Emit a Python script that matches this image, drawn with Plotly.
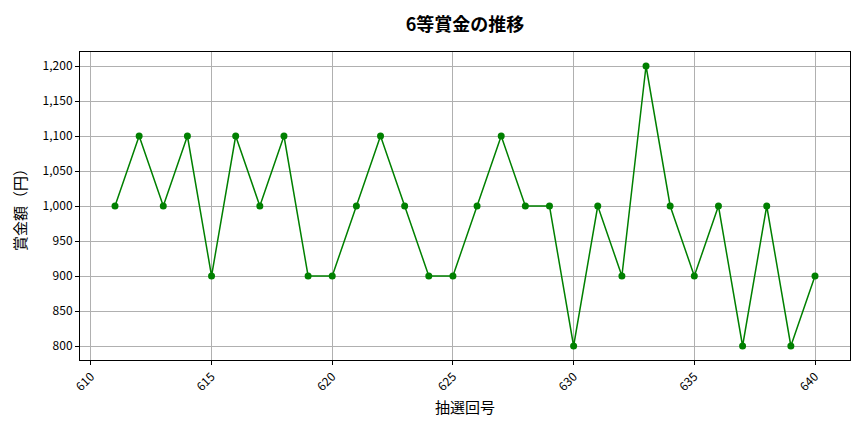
import plotly.graph_objects as go

draws = list(range(611, 641))
prizes = [1000, 1100, 1000, 1100, 900, 1100, 1000, 1100, 900, 900,
          1000, 1100, 1000, 900, 900, 1000, 1100, 1000, 1000, 800,
          1000, 900, 1200, 1000, 900, 1000, 800, 1000, 800, 900]

title_text = "6等賞金の推移"
x_title = "抽選回号"
y_title = "賞金額（円）"

FONT = "Noto Sans CJK JP"
W, H = 848, 416

fig = go.Figure()
fig.add_trace(go.Scatter(
    x=draws, y=prizes, mode="lines+markers",
    line=dict(color="green", width=1.5),
    marker=dict(color="green", size=7),
    showlegend=False,
))

fig.update_layout(
    width=W, height=H,
    margin=dict(l=72, r=6, t=44, b=64),
    paper_bgcolor="white", plot_bgcolor="white",
    font=dict(family=FONT, color="black", size=12),
    title=dict(text=f"<b>{title_text}</b>", x=(72 + (W - 6)) / 2 / W, xref="container", xanchor="center",
               y=1 - 17 / H, yanchor="middle", font=dict(size=18, family=FONT)),
)
fig.update_xaxes(
    range=[609.55, 641.45], dtick=5, tick0=610, tickangle=-45,
    showgrid=True, gridcolor="#b0b0b0", gridwidth=0.8,
    showline=True, linecolor="black", linewidth=1, mirror=True,
    ticks="outside", ticklen=4, tickcolor="black",
    title=dict(text=x_title, font=dict(size=15, family=FONT), standoff=9),
    zeroline=False,
)
fig.update_yaxes(
    range=[780, 1220], dtick=50, tick0=800, tickformat=",",
    showgrid=True, gridcolor="#b0b0b0", gridwidth=0.8,
    showline=True, linecolor="black", linewidth=1, mirror=True,
    ticks="outside", ticklen=4, tickcolor="black",
    title=dict(text=y_title, font=dict(size=15, family=FONT), standoff=12),
    zeroline=False,
)

fig.write_html("out.html")
